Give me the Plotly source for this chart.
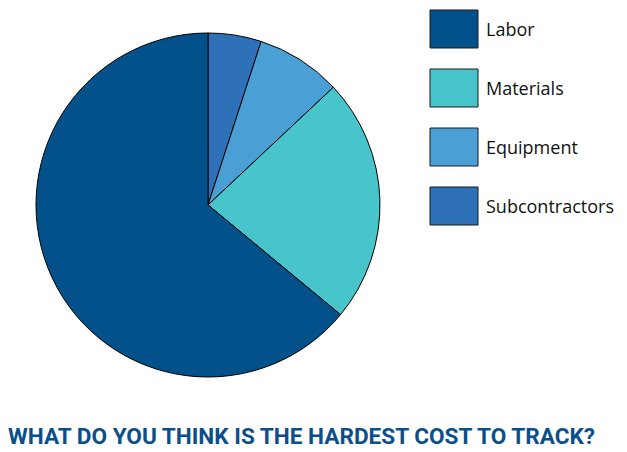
import plotly.graph_objects as go

categories = ["Labor", "Materials", "Equipment", "Subcontractors"]
values = [64, 23, 8, 5]
colors = ["#02518a", "#48c4cb", "#4a9fd5", "#2e71b9"]
title_text = "WHAT DO YOU THINK IS THE HARDEST COST TO TRACK?"

W, H = 627, 452
cx, cy, r = 208, 205, 172

# slices go clockwise from 12 o'clock in reverse legend order
fig = go.Figure(go.Pie(
    labels=categories[::-1], values=values[::-1], sort=False, direction="clockwise",
    rotation=0, textinfo="none", hoverinfo="label+percent",
    marker=dict(colors=colors[::-1], line=dict(color="#000000", width=1)),
    domain=dict(x=[(cx - r) / W, (cx + r) / W], y=[1 - (cy + r) / H, 1 - (cy - r) / H]),
    showlegend=False,
))

shapes = []
annotations = []
for i, (cat, col) in enumerate(zip(categories, colors)):
    top = 10 + i * 59
    shapes.append(dict(type="rect", xref="paper", yref="paper",
                       x0=430 / W, x1=478 / W, y0=1 - (top + 38) / H, y1=1 - top / H,
                       fillcolor=col, line=dict(color="#1a1a1a", width=1)))
    annotations.append(dict(text=cat, xref="paper", yref="paper", x=484 / W, y=1 - (top + 19) / H,
                            xanchor="left", yanchor="middle", showarrow=False,
                            font=dict(family="Open Sans", size=18, color="#111111")))

annotations.append(dict(text="<b>" + title_text + "</b>", xref="paper", yref="paper",
                        x=6 / W, y=1 - 436 / H, xanchor="left", yanchor="middle", showarrow=False,
                        font=dict(family="Roboto", size=22.6, color="#0b4f8a")))

fig.update_layout(width=W, height=H, margin=dict(l=0, r=0, t=0, b=0),
                  paper_bgcolor="white", plot_bgcolor="white",
                  shapes=shapes, annotations=annotations)
fig.write_html("out.html", config={"displayModeBar": False},
               post_script="document.body.style.margin='0';document.body.style.overflow='hidden';")
